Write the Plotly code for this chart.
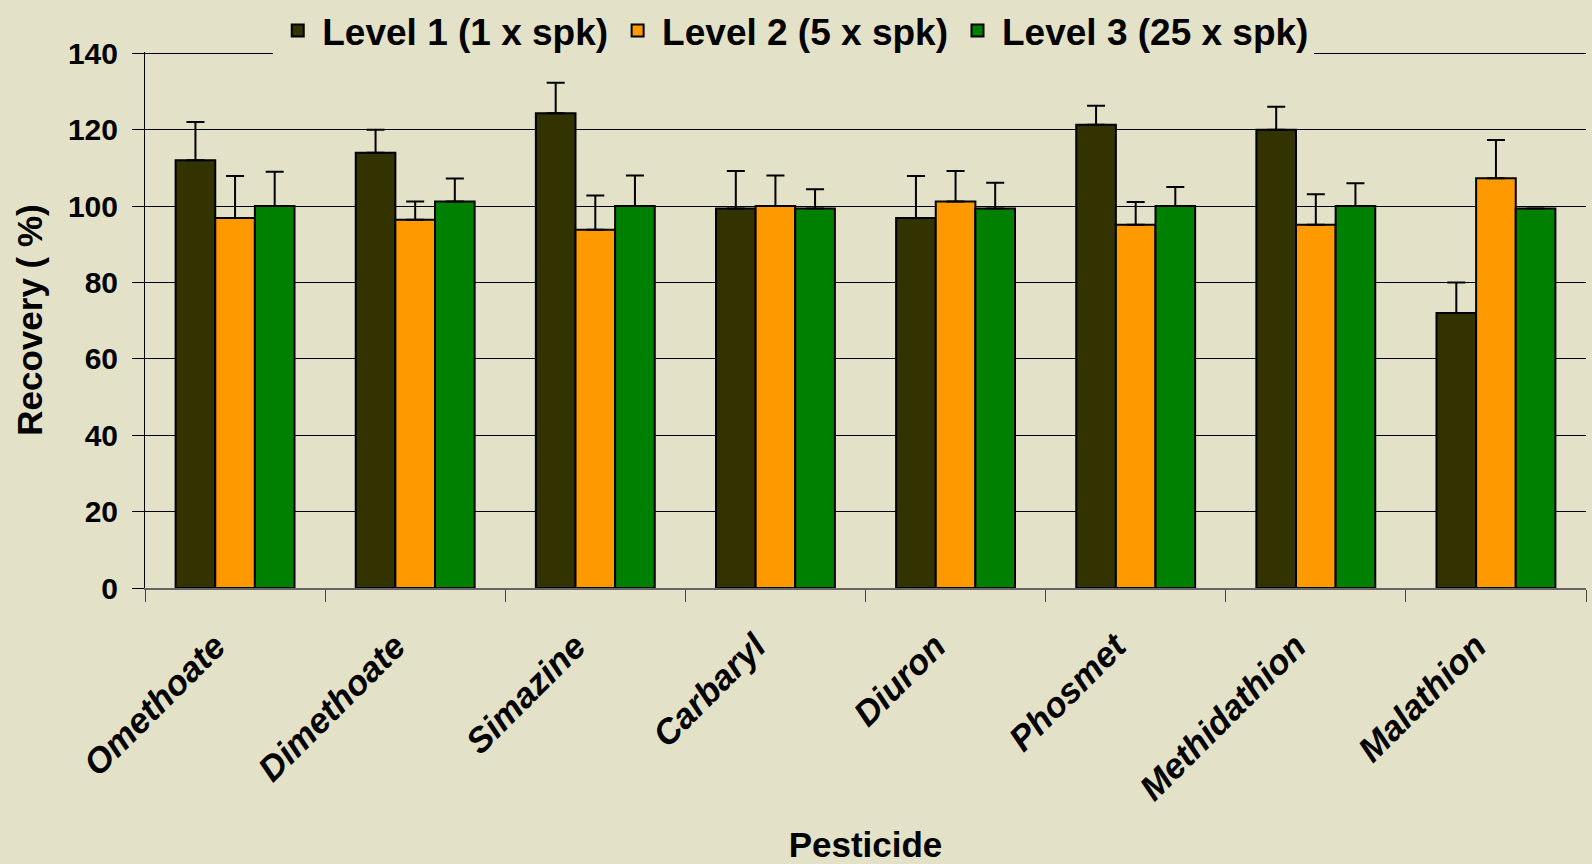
import plotly.graph_objects as go

pesticides = ["Omethoate", "Dimethoate", "Simazine", "Carbaryl", "Diuron",
              "Phosmet", "Methidathion", "Malathion"]

level1 = [112, 114, 124.3, 99.4, 96.9, 121.3, 120, 72]
level1_err = [10, 6, 8, 9.8, 11, 5, 6, 8]

level2 = [96.9, 96.4, 93.8, 100, 101.2, 95.1, 95.1, 107.3]
level2_err = [11, 4.8, 9, 8, 8, 6, 8, 10]

level3 = [100, 101.2, 100, 99.4, 99.4, 100, 100, 99.4]
level3_err = [9, 6, 8, 5, 6.7, 5, 6, 0]

series_names = ["Level 1 (1 x spk)", "Level 2 (5 x spk)", "Level 3 (25 x spk)"]
colors = ["#333300", "#FF9900", "#008000"]

BG = "#E3E2C8"
FONT = "Liberation Sans, Arial, sans-serif"

fig = go.Figure()
for name, vals, errs, col in zip(series_names, [level1, level2, level3],
                                 [level1_err, level2_err, level3_err], colors):
    fig.add_trace(go.Bar(
        x=pesticides, y=vals, name=name,
        marker=dict(color=col, line=dict(color="black", width=2)),
        error_y=dict(type="data", symmetric=False, array=errs,
                     arrayminus=[0] * len(errs), color="black",
                     thickness=2, width=9, visible=True),
    ))

fig.update_layout(
    width=1592, height=864,
    paper_bgcolor=BG, plot_bgcolor=BG,
    barmode="group", bargap=0.34, bargroupgap=0,
    margin=dict(l=145, r=6, t=52, b=276, autoexpand=False),
    font=dict(family=FONT, color="black", size=28, weight="bold"),
    showlegend=True,
    legend=dict(
        orientation="h", x=0.089, xanchor="left", y=1.097, yanchor="top",
        bgcolor=BG, borderwidth=0, itemwidth=39,
        font=dict(family=FONT, size=37, color="black", weight="bold"),
        traceorder="normal",
    ),
    xaxis=dict(
        type="category", tickson="boundaries", ticks="outside", ticklen=12,
        tickcolor="#444444", tickwidth=1,
        showline=True, linecolor="#666666", linewidth=1.5,
        showgrid=False, tickangle=-45,
        tickfont=dict(family=FONT, size=35, style="italic", weight="bold"),
        ticklabelstandoff=22, ticklabelshift=-20,
        title=dict(text="Pesticide",
                   font=dict(family=FONT, size=35, weight="bold"), standoff=46),
    ),
    yaxis=dict(
        range=[0, 140.35], dtick=20, tick0=0,
        showgrid=True, gridcolor="black", gridwidth=1,
        ticks="outside", ticklen=12, tickcolor="black",
        showline=True, linecolor="black", linewidth=1,
        zeroline=False, ticklabelstandoff=8,
        tickfont=dict(family=FONT, size=30, weight="bold"),
        title=dict(text="Recovery ( %)",
                   font=dict(family=FONT, size=35, weight="bold"), standoff=14),
    ),
)

fig.write_html("out.html", config={"displayModeBar": False},
               post_script="document.body.style.margin='0';")
